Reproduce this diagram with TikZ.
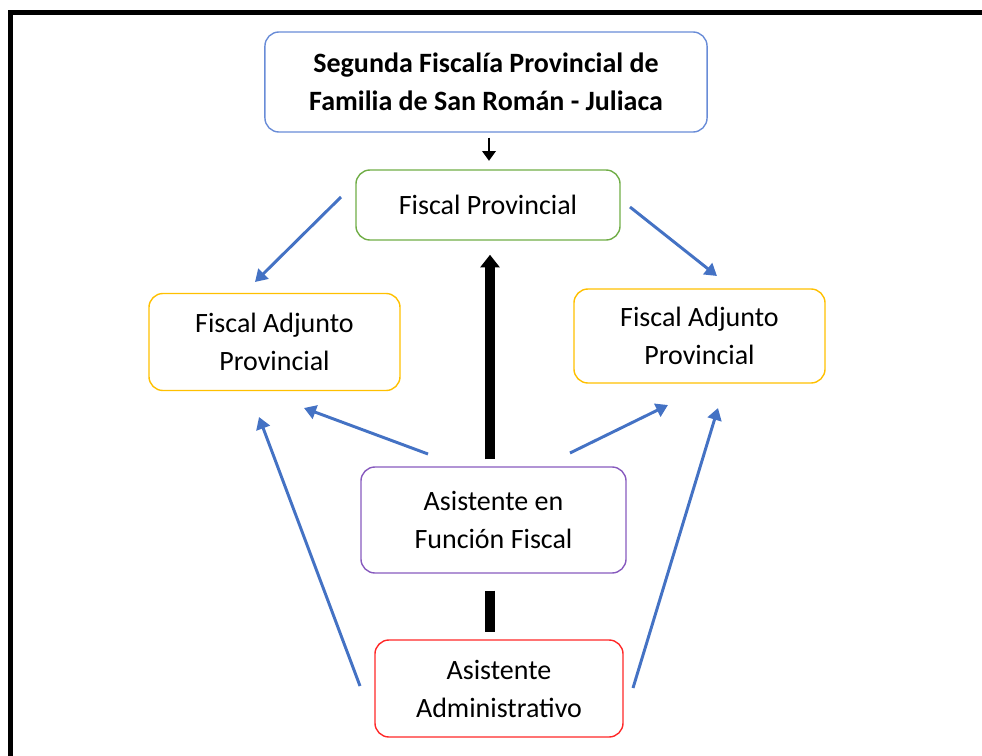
\documentclass[tikz,border=0pt]{standalone}
\usepackage{fontspec}
\setmainfont{Carlito}
\usetikzlibrary{arrows.meta}

\definecolor{topblue}{RGB}{105,140,215}
\definecolor{fpgreen}{RGB}{112,173,71}
\definecolor{adjyellow}{RGB}{255,192,0}
\definecolor{affpurple}{RGB}{135,90,190}
\definecolor{aared}{RGB}{255,40,40}
\definecolor{linkblue}{RGB}{68,114,196}

\tikzset{
  box/.style={draw, line width=1pt, rounded corners=10pt, align=center,
    inner sep=0pt, font=\fontsize{19.9}{27}\selectfont},
  link/.style={linkblue, line width=2.1pt, -{Triangle[width=10pt,length=8.5pt]}},
  bigarrow/.style={black, line width=6.8pt, -{Triangle[width=13.5pt,length=9pt]}},
}

\begin{document}
\begin{tikzpicture}[x=0.025cm, y=-0.025cm]
    \useasboundingbox (0,0) rectangle (982,756);
    \draw[line width=3.6pt] (10.5,756) -- (10.5,12.5) -- (982,12.5);

    \node[box, draw=topblue, minimum width=11.05cm, minimum height=2.5cm] (top) at (486,82)
        {\textbf{Segunda Fiscalía Provincial de}\\\textbf{Familia de San Román - Juliaca}};
    \node[box, draw=fpgreen, minimum width=6.6cm, minimum height=1.75cm] (fp) at (488,205) {Fiscal Provincial};
    \node[box, draw=adjyellow, minimum width=6.275cm, minimum height=2.425cm] (fal) at (274.5,342) {Fiscal Adjunto\\Provincial};
    \node[box, draw=adjyellow, minimum width=6.275cm, minimum height=2.35cm] (far) at (699.5,336) {Fiscal Adjunto\\Provincial};
    \node[box, draw=affpurple, minimum width=6.625cm, minimum height=2.65cm] (aff) at (493.5,520) {Asistente en\\Función Fiscal};
    \node[box, draw=aared, minimum width=6.2cm, minimum height=2.425cm] (aa) at (499,688.5) {Asistente\\Administrativo};

    % black links
    \draw[line width=1.8pt, -{Triangle[width=9.5pt,length=7pt]}, shorten <=3.5pt, shorten >=6pt]
        (top.south -| 489,0) -- (fp.north -| 489,0);
    \draw[bigarrow, shorten <=5pt, shorten >=10pt] (aff.north -| 490,0) -- (fp.south -| 490,0);
    \draw[black, line width=6.8pt, shorten <=12pt, shorten >=5pt] (aff.south -| 490,0) -- (aa.north -| 490,0);

    % blue links
    \coordinate (fpl) at (341,197);
    \coordinate (fpr) at (630,207);
    \coordinate (affl) at (428,454);
    \coordinate (affr) at (570,453);
    \coordinate (aal) at (360,686);
    \coordinate (aar) at (633,688);
    \coordinate (fall) at (259,417);
    \coordinate (falr) at (304,408);
    \coordinate (farl) at (668,405);
    \coordinate (farr) at (718,408);
    \coordinate (falt) at (255,282);
    \coordinate (fart) at (717,276);
    \draw[link] (fpl) -- (falt);
    \draw[link] (fpr) -- (fart);
    \draw[link] (affl) -- (falr);
    \draw[link] (affr) -- (farl);
    \draw[link] (aal) -- (fall);
    \draw[link] (aar) -- (farr);
\end{tikzpicture}
\end{document}
